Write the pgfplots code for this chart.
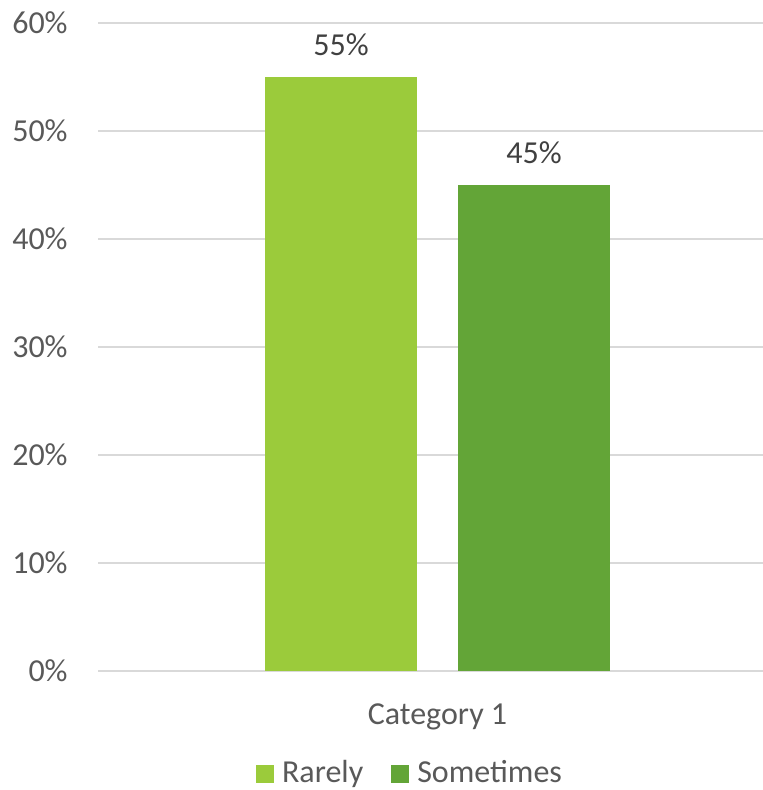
\documentclass[border=0pt]{standalone}
\usepackage{pgfplots}
\pgfplotsset{compat=1.18}
\usepackage{fontspec}
\setmainfont{Carlito}
\definecolor{lgreen}{HTML}{9BCB3B}
\definecolor{dgreen}{HTML}{63A537}
\definecolor{tgray}{HTML}{595959}
\definecolor{lgray}{HTML}{404040}
\definecolor{gridc}{HTML}{D9D9D9}
\begin{document}
\fontsize{16}{19}\selectfont
\begin{tikzpicture}[x=0.5pt,y=0.5pt]
\begin{axis}[
  at={(98,110)}, anchor=south west,
  scale only axis, width=332.5pt, height=324pt,
  xmin=-3.395, xmax=3.255,
  ymin=0, ymax=60,
  axis line style={draw=none},
  ytick={0,10,...,60},
  yticklabel={\pgfmathprintnumber{\tick}\%},
  xtick={0}, xticklabels={Category 1},
  major tick length=0pt,
  ymajorgrids, xmajorgrids=false, major grid style={draw=gridc, line width=1pt},
  /pgf/number format/assume math mode=true,
  tick label style={font=\fontsize{16}{19}\selectfont, text=tgray},
  yticklabel style={inner sep=0pt, anchor=east, xshift=-15pt},
  xticklabel style={inner sep=0pt, anchor=center, yshift=-23pt},
  ybar, bar width=1.52,
  clip=false,
  nodes near coords={\pgfmathprintnumber{\pgfplotspointmeta}\%},
  every node near coord/.append style={font=\fontsize{16}{19}\selectfont, text=lgray, inner sep=0pt, anchor=south, yshift=10.5pt},
  legend style={at={(0.4707,-0.159)}, anchor=center, draw=none, fill=none,
    legend columns=2, font=\fontsize{16}{19}\selectfont, text=tgray,
    /tikz/every even column/.append style={column sep=12pt}},
  legend image code/.code={\fill[#1] (0pt,-4.5pt) rectangle (9pt,4.5pt); \path (11pt,0pt);},
]
\addplot[draw=none, fill=lgreen, bar shift=-0.965] coordinates {(0,55)};
\addplot[draw=none, fill=dgreen, bar shift=0.965] coordinates {(0,45)};
\legend{Rarely, Sometimes}
\end{axis}
\pgfresetboundingbox
\path[use as bounding box] (0,0) rectangle (763,790);
\end{tikzpicture}
\end{document}
